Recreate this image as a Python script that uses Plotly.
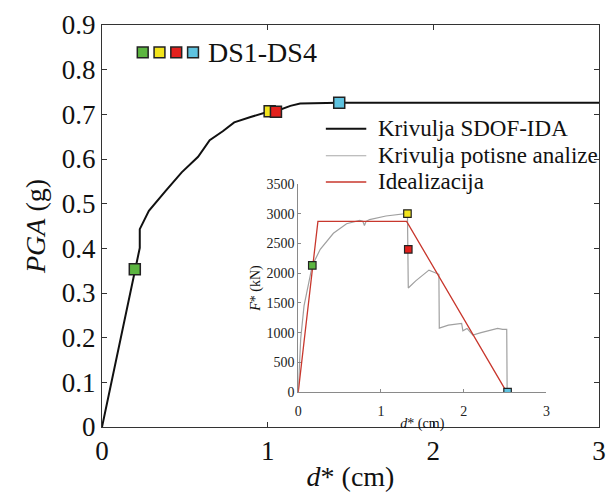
import plotly.graph_objects as go

# Main SDOF-IDA curve
ida_d = [0, 0.198, 0.218, 0.228, 0.228, 0.283, 0.383, 0.481, 0.580, 0.650, 0.729, 0.798,
         0.897, 0.986, 1.012, 1.05, 1.137, 1.196, 1.33, 1.432, 3.0]
ida_pga = [0, 0.353, 0.390, 0.401, 0.443, 0.484, 0.528, 0.570, 0.605, 0.642, 0.662, 0.682,
           0.694, 0.703, 0.707, 0.707, 0.719, 0.724, 0.726, 0.726, 0.726]

# Damage state points on main curve (DS1..DS4)
ds_names = ["DS1", "DS2", "DS3", "DS4"]
ds_colors = ["#5cb540", "#f2e41c", "#e3211d", "#5ec3e0"]
ds_main_d = [0.198, 1.012, 1.05, 1.432]
ds_main_pga = [0.353, 0.707, 0.706, 0.726]

# Pushover curve (inset)
po_d = [0, 0.03, 0.07, 0.115, 0.17, 0.266, 0.425, 0.584, 0.743, 0.78, 0.80, 0.82, 0.862,
        1.06, 1.22, 1.32, 1.33, 1.42, 1.58, 1.70, 1.705, 1.815, 1.975, 1.99, 2.04, 2.11,
        2.21, 2.41, 2.47, 2.52, 2.525]
po_f = [0, 900, 1450, 1750, 2130, 2400, 2670, 2830, 2885, 2870, 2800, 2870, 2900,
        2960, 2995, 3005, 1750, 1870, 2050, 1980, 1075, 1125, 1155, 1030, 1070, 960,
        1000, 1070, 1055, 1055, 0]

# Idealization (inset)
id_d = [0, 0.238, 1.31, 2.52]
id_f = [0, 2870, 2870, 0]

# Damage state points on pushover curve
ds_po_d = [0.17, 1.32, 1.33, 2.53]
ds_po_f = [2130, 3000, 2400, 0]

# Legend entries
legend_names = ["Krivulja SDOF-IDA", "Krivulja potisne analize", "Idealizacija"]
legend_colors = ["#111111", "#a8a8a8", "#c8372d"]
legend_widths = [2, 1.2, 1.5]

FONT = "Liberation Serif"

fig = go.Figure()
fig.add_trace(go.Scatter(x=ida_d, y=ida_pga, mode="lines", name=legend_names[0], showlegend=False,
                         line=dict(color="#111111", width=2)))
fig.add_trace(go.Scatter(x=po_d, y=po_f, mode="lines", name=legend_names[1], showlegend=False,
                         line=dict(color="#a0a0a0", width=1.2), xaxis="x2", yaxis="y2"))
fig.add_trace(go.Scatter(x=id_d, y=id_f, mode="lines", name=legend_names[2], showlegend=False,
                         line=dict(color="#c8372d", width=1.3), xaxis="x2", yaxis="y2"))
fig.add_trace(go.Scatter(x=ds_main_d, y=ds_main_pga, mode="markers", showlegend=False,
                         text=ds_names,
                         marker=dict(symbol="square", size=11, color=ds_colors,
                                     line=dict(color="#222222", width=1.5))))
fig.add_trace(go.Scatter(x=ds_po_d, y=ds_po_f, mode="markers", showlegend=False,
                         text=ds_names, xaxis="x2", yaxis="y2",
                         marker=dict(symbol="square", size=7.5, color=ds_colors,
                                     line=dict(color="#222222", width=1.2))))

# Geometry helpers (paper coords)
L, R, T, B = 102, 6, 25, 52
W, H = 612 - L - R, 492 - T - B
def px(xp):
    return (xp - L) / W
def py(yp):
    return (492 - B - yp) / H

shapes = []
annotations = []
# DS1-DS4 legend squares
for i, c in enumerate(ds_colors):
    cx = 143.3 + 17 * i
    cy = 53.3
    shapes.append(dict(type="rect", xref="paper", yref="paper",
                       x0=px(cx - 5.5), x1=px(cx + 5.5), y0=py(cy + 5.5), y1=py(cy - 5.5),
                       fillcolor=c, line=dict(color="#222222", width=1.5), layer="above"))
annotations.append(dict(text="DS1-DS4", xref="paper", yref="paper", x=px(207), y=py(53.3),
                        xanchor="left", yanchor="middle", showarrow=False,
                        font=dict(family=FONT, size=28, color="#111111")))

# Line legend
for i, (nm, c, w) in enumerate(zip(legend_names, legend_colors, legend_widths)):
    yy = [132, 160, 187][i]
    shapes.append(dict(type="line", xref="paper", yref="paper",
                       x0=px(329), x1=px(370), y0=py(yy), y1=py(yy),
                       line=dict(color=c, width=w), layer="above"))
    annotations.append(dict(text=nm, xref="paper", yref="paper", x=px(380), y=py(yy),
                            xanchor="left", yanchor="middle", showarrow=False,
                            font=dict(family=FONT, size=23, color="#111111")))

axis_common = dict(showline=True, linecolor="#333333", linewidth=1, mirror="ticks",
                   ticks="inside", ticklen=5, tickcolor="#333333", showgrid=False,
                   zeroline=False, tickfont=dict(family=FONT, size=27, color="#111111"))

fig.update_layout(
    width=612, height=492,
    margin=dict(l=L, r=R, t=T, b=B),
    paper_bgcolor="white", plot_bgcolor="white",
    font=dict(family=FONT, color="#111111"),
    showlegend=False,
    xaxis=dict(range=[0, 3], tickvals=[0, 1, 2, 3], **axis_common,
               title=dict(text="<i>d</i>* (cm)", font=dict(family=FONT, size=28), standoff=0)),
    yaxis=dict(range=[0, 0.9], dtick=0.1, **axis_common,
               title=dict(text="<i>PGA</i> (g)", font=dict(family=FONT, size=28), standoff=8)),
    xaxis2=dict(domain=[px(301), px(552.7)], anchor="y2", range=[0, 3], tickvals=[0, 1, 2, 3],
                showline=True, linecolor="#8a8a8a", linewidth=1, ticks="inside", ticklen=3,
                tickcolor="#8a8a8a", showgrid=False, zeroline=False, ticklabelstandoff=6,
                tickfont=dict(family=FONT, size=14, color="#222222"),
                title=dict(text="<i>d</i>* (cm)", font=dict(family=FONT, size=14), standoff=0)),
    yaxis2=dict(domain=[py(404), py(189)], anchor="x2", range=[0, 3500], dtick=500,
                showline=True, linecolor="#8a8a8a", linewidth=1, ticks="inside", ticklen=3,
                tickcolor="#8a8a8a", showgrid=False, zeroline=False,
                tickfont=dict(family=FONT, size=14, color="#222222"),
                title=dict(text="<i>F</i>* (kN)", font=dict(family=FONT, size=14), standoff=2)),
    shapes=shapes,
    annotations=annotations,
)

fig.write_html("out.html")
